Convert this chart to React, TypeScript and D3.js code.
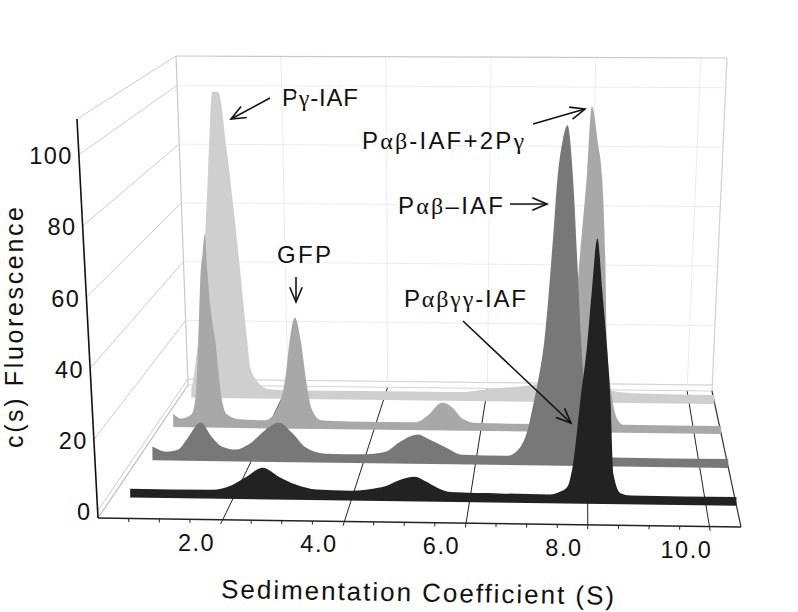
import React from "react";
import * as d3 from "d3";

// Data: [S, c(s)] per series
const lightProfile: [number, number][] = [[0.2,0],[0.24,3.3],[0.28,8.4],[0.34,16.7],[0.41,30],[0.47,50],[0.53,72.6],[0.61,99.6],[0.73,99.6],[0.89,81.3],[1.03,61],[1.17,38.5],[1.3,16.7],[1.36,7.7],[1.48,3.3],[1.72,0.3],[1.97,0],[4.88,0],[5.47,0],[6.0,1],[6.8,2.4],[7.45,3.9],[8.24,2.7],[8.48,1],[9.03,0.2],[10.5,0]];
const midProfile: [number, number][] = [[0.24,1.9],[0.39,0.3],[0.58,1.6],[0.66,7.3],[0.71,25],[0.75,46],[0.79,53],[0.83,59.4],[0.88,47],[0.94,35.5],[1.03,25],[1.15,6.7],[1.24,1.9],[1.47,0.3],[1.97,0.1],[2.26,7],[2.35,15],[2.42,25.6],[2.52,33],[2.63,25.4],[2.74,11.7],[2.83,4],[3.01,0.3],[3.52,0],[4.79,0],[5.0,2.1],[5.28,6.4],[5.47,4.8],[5.66,1.3],[5.92,0],[7.6,0],[7.71,20],[7.82,46],[7.99,80],[8.08,101],[8.2,88.6],[8.27,79],[8.33,53.5],[8.36,27],[8.46,8.6],[8.55,2],[8.67,0],[10.5,0]];
const darkProfile: [number, number][] = [[0.25,1.5],[0.5,0],[0.71,0.7],[0.86,3.8],[1.11,9],[1.3,4.8],[1.48,1.8],[1.73,0.9],[1.96,2.5],[2.27,7.1],[2.5,9.3],[2.73,6.3],[2.98,1.8],[3.34,0],[4.05,0],[4.41,0.9],[4.64,3.7],[4.98,6.2],[5.18,4.7],[5.48,2.3],[5.77,0.2],[6.57,0.1],[6.79,2.6],[6.93,8.1],[7.02,15],[7.11,22.5],[7.23,35.6],[7.38,66],[7.46,84.4],[7.55,95.7],[7.64,100.6],[7.73,86.6],[7.82,57],[7.88,35.7],[7.95,17.4],[8.04,5.5],[8.21,0.9],[8.43,0],[10.5,0]];
const blackProfile: [number, number][] = [[0.29,0],[1.67,0],[2.01,1.5],[2.25,3.9],[2.52,6.6],[2.8,4],[3.09,1.8],[3.43,0.5],[3.99,0.3],[4.54,1.5],[4.83,3.6],[5.08,4.6],[5.29,3.1],[5.46,1.5],[5.68,0.3],[6.52,0.1],[7.36,0],[7.5,0.6],[7.65,2.2],[7.74,8],[7.87,27],[7.99,44],[8.06,58],[8.16,74],[8.24,59],[8.31,45],[8.38,27],[8.43,6],[8.55,0.6],[8.72,0],[10.5,0]];

const seriesNames = ["light", "mid", "dark", "black"];
const seriesProfiles = [lightProfile, midProfile, darkProfile, blackProfile];
const seriesFrontDepth = [0.859, 0.637, 0.385, 0.104];
const seriesBackDepth = [0.926, 0.696, 0.452, 0.17];
const seriesColors = ["#cfcfcf", "#a8a8a8", "#787878", "#222222"];

const xMajor = [2, 4, 6, 8, 10];
const xMinor = d3.range(0.5, 10.5, 0.5).filter((d) => d % 2 !== 0);
const yTicks = [0, 20, 40, 60, 80, 100];

// Corner points of the viewing box, [x,y]: u = S, v = c, w = depth
const corners = {
  f00: [98, 518], f10: [741, 527], f01: [77, 119], f11: [762, 127],
  b00: [188, 385], b10: [712, 391], b01: [176, 56], b11: [727, 58],
};
const u = d3.scaleLinear().domain([0, 10.5]).range([0, 1]);
const v = d3.scaleLinear().domain([-2, 110]).range([0, 1]);
const mix = (a: number, b: number, t: number) => a + (b - a) * t;
function project(s: number, c: number, w: number): [number, number] {
  const p = u(s), q = v(c);
  const at = (i: 0 | 1) => {
    const f0 = mix(corners.f00[i], corners.f10[i], p);
    const f1 = mix(corners.f01[i], corners.f11[i], p);
    const b0 = mix(corners.b00[i], corners.b10[i], p);
    const b1 = mix(corners.b01[i], corners.b11[i], p);
    return mix(mix(f0, f1, q), mix(b0, b1, q), w);
  };
  return [at(0), at(1)];
}
const seg = (a: [number, number], b: [number, number], stroke: string, sw = 1, key?: string) => (
  <line key={key} x1={a[0]} y1={a[1]} x2={b[0]} y2={b[1]} stroke={stroke} strokeWidth={sw} />
);
const curve = d3.line().curve(d3.curveMonotoneX);

function ribbon(i: number): string {
  const profile = seriesProfiles[i];
  const wb = seriesBackDepth[i], wf = seriesFrontDepth[i];
  const top = profile.map(([s, c]) => [project(s, 0, wb)[0], project(s, c, wb)[1]] as [number, number]);
  const first = profile[0][0], last = profile[profile.length - 1][0];
  const bl = project(first, 0, wf), br = project(last, 0, wf);
  const xl = top[0][0], xr = top[top.length - 1][0];
  return `${curve(top)}L${xr},${br[1]}L${xl},${bl[1]}Z`;
}

function Arrow({ from, to }: { from: [number, number]; to: [number, number] }) {
  const a = Math.atan2(to[1] - from[1], to[0] - from[0]);
  const h = 16, sp = 0.4;
  const p1 = [to[0] - h * Math.cos(a - sp), to[1] - h * Math.sin(a - sp)];
  const p2 = [to[0] - h * Math.cos(a + sp), to[1] - h * Math.sin(a + sp)];
  return (
    <g stroke="#111" strokeWidth={1.6} fill="none">
      <line x1={from[0]} y1={from[1]} x2={to[0]} y2={to[1]} />
      <path d={`M${p1[0]},${p1[1]}L${to[0]},${to[1]}L${p2[0]},${p2[1]}`} />
    </g>
  );
}

const greek = { fontFamily: "'Liberation Serif', serif" };
function Label({ x, y, width, parts }: { x: number; y: number; width: number; parts: [string, boolean][] }) {
  return (
    <text x={x} y={y} textLength={width} lengthAdjust="spacing" fontSize={24} fill="#111" stroke="#fff" strokeWidth={6} paintOrder="stroke" strokeLinejoin="round">
      {parts.map(([t, g], i) => (
        <tspan key={i} style={g ? greek : undefined}>{t}</tspan>
      ))}
    </text>
  );
}

export default function App() {
  const font = "'Liberation Sans', Arial, sans-serif";
  return (
    <svg width={798} height={612} viewBox="0 0 798 612" style={{ position: "absolute", left: 0, top: 0, background: "#fff" }} fontFamily={font}>
      {/* back wall */}
      <g>
        {xMajor.map((s) => seg(project(s, 0, 1), project(s, 110, 1), "#ececec", 1, "bv" + s))}
        {yTicks.map((c) => seg(project(0, c, 1), project(10.5, c, 1), "#ececec", 1, "bh" + c))}
        {seg(project(0, 110, 1), project(10.5, 110, 1), "#c8c8c8", 1.2, "bt")}
        {seg(project(0, 110, 1), project(0, -2, 1), "#c8c8c8", 1.2, "bl")}
        {seg(project(10.5, 110, 1), project(10.5, -2, 1), "#d2d2d2", 1.2, "br")}
      </g>
      {/* left wall */}
      <g>
        {yTicks.map((c) => seg(project(0, c, 0), project(0, c, 1), "#cccccc", 1, "lh" + c))}
        {seg(project(0, 110, 0), project(0, 110, 1), "#cccccc", 1, "lt")}
        {seg(project(0, -2, 0), project(0, -2, 1), "#bdbdbd", 1.2, "lf")}
      </g>
      {/* floor */}
      <g>
        {xMajor.map((s) => seg(project(s, -3.2, 0), project(s, -2, 1), "#222", 1, "fv" + s))}
        {xMinor.map((s) => seg(project(s, -2, 0), project(s, -3, 0), "#222", 1, "fm" + s))}
        {seg(project(0, 0, 1), project(10.5, 0, 1), "#d4d4d4", 1, "f0")}
        {seg(project(0, -2, 1), project(10.5, -2, 1), "#d4d4d4", 1, "fb")}
        {seg(project(10.5, -2, 0), project(10.5, -2, 1), "#333", 1.2, "fr")}
        {seg(project(0, -2, 0), project(10.5, -2, 0), "#222", 1.5, "ff")}
        {seg(project(0, -2, 0), project(0, 110, 0), "#111", 1.6, "ax")}
      </g>
      {/* ribbons */}
      {seriesNames.map((n, i) => (
        <path key={n} d={ribbon(i)} fill={seriesColors[i]} />
      ))}
      {/* tick labels */}
      <g fontSize={23.5} fill="#111" letterSpacing={1.5}>
        {yTicks.map((c) => {
          const [x, y] = project(0, c, 0);
          return (
            <text key={c} x={x - 6} y={y + 1} dy="0.36em" textAnchor="end">
              {c}
            </text>
          );
        })}
        {xMajor.map((s) => {
          const [x, y] = project(s, -2, 0);
          return (
            <text key={s} x={x - 24} y={y + 31} textAnchor="middle">
              {s.toFixed(1)}
            </text>
          );
        })}
      </g>
      {/* axis titles */}
      <text x={221} y={598} textLength={393} lengthAdjust="spacing" fontSize={26} fill="#111" transform="rotate(1 221 598)">
        Sedimentation Coefficient (S)
      </text>
      <text transform="translate(23,448) rotate(-90)" textLength={241} lengthAdjust="spacing" fontSize={25} fill="#111">
        c(s) Fluorescence
      </text>
      {/* annotations */}
      <Label x={282} y={106} width={76} parts={[["P", false], ["γ", true], ["-IAF", false]]} />
      <Label x={277} y={263} width={54} parts={[["GFP", false]]} />
      <Label x={362} y={149} width={162} parts={[["P", false], ["αβ", true], ["-IAF+2P", false], ["γ", true]]} />
      <Label x={398} y={214} width={105} parts={[["P", false], ["αβ", true], ["–IAF", false]]} />
      <Label x={404} y={307} width={122} parts={[["P", false], ["αβγγ", true], ["-IAF", false]]} />
      <Arrow from={[270, 98]} to={[231, 119]} />
      <Arrow from={[296, 277]} to={[296, 302]} />
      <Arrow from={[533, 124]} to={[585, 109]} />
      <Arrow from={[510, 204]} to={[547, 204]} />
      <Arrow from={[463, 321]} to={[571, 423]} />
    </svg>
  );
}
